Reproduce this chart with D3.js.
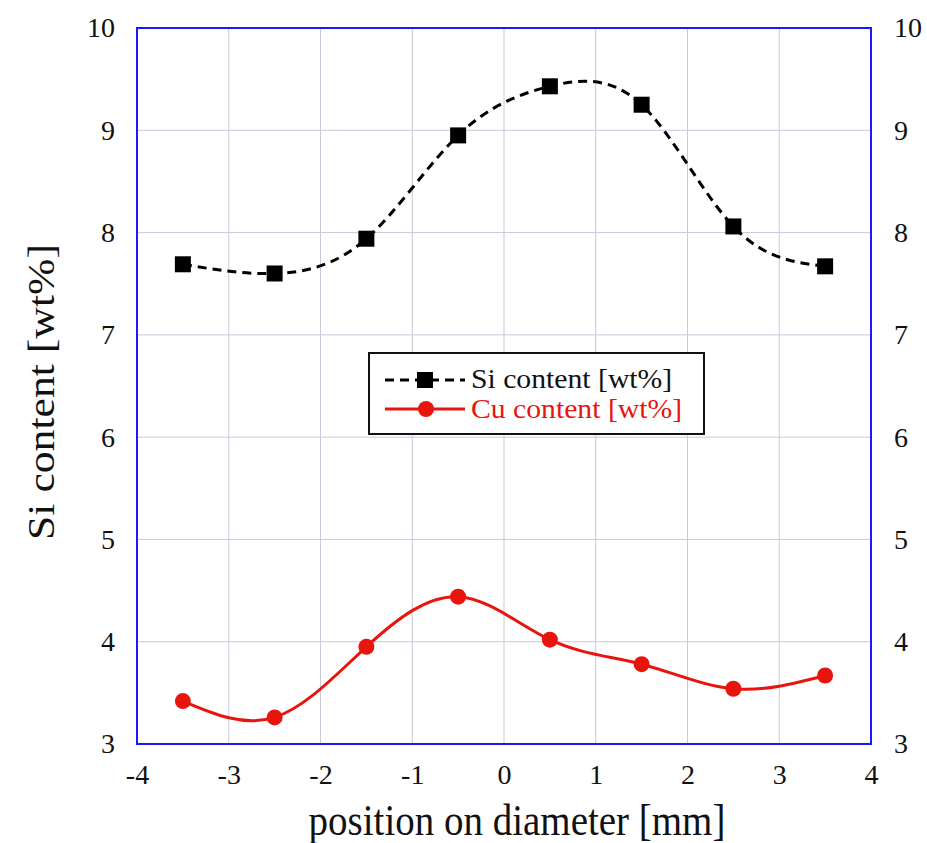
<!DOCTYPE html>
<html><head><meta charset="utf-8">
<script src="https://cdn.jsdelivr.net/npm/d3@7"></script>
<style>body{margin:0;background:#fff}</style>
</head><body>
<svg id="c" width="927" height="843"></svg>
<script>
const positions = [-3.5, -2.5, -1.5, -0.5, 0.5, 1.5, 2.5, 3.5];
const siValues = [7.69, 7.60, 7.94, 8.95, 9.43, 9.25, 8.06, 7.67];
const cuValues = [3.42, 3.26, 3.95, 4.44, 4.02, 3.78, 3.54, 3.67];
const xTicks = [-4, -3, -2, -1, 0, 1, 2, 3, 4];
const yTicks = [3, 4, 5, 6, 7, 8, 9, 10];
const seriesNames = ["Si content [wt%]", "Cu content [wt%]"];
const xTitle = "position on diameter [mm]";
const yTitle = "Si content [wt%]";

const svg = d3.select("#c");
const L = 137, R = 871, T = 28, B = 744;
const x = d3.scaleLinear().domain([-4, 4]).range([L, R]);
const y = d3.scaleLinear().domain([3, 10]).range([B, T]);
const font = "'Liberation Serif', 'Times New Roman', serif";
const fmt = d => String(d);

// grid
svg.append("g").selectAll("line").data(xTicks.slice(1, -1)).join("line")
  .attr("x1", d => x(d)).attr("x2", d => x(d)).attr("y1", T).attr("y2", B)
  .attr("stroke", "#c9c9da").attr("stroke-width", 1);
svg.append("g").selectAll("line").data(yTicks.slice(1, -1)).join("line")
  .attr("y1", d => y(d)).attr("y2", d => y(d)).attr("x1", L).attr("x2", R)
  .attr("stroke", "#c9c9da").attr("stroke-width", 1);

// axes (labels only)
const ax = (gen, tx, ty) => {
  const g = svg.append("g").attr("transform", `translate(${tx},${ty})`).call(gen);
  g.select(".domain").remove();
  g.selectAll(".tick line").remove();
  g.selectAll("text").attr("font-family", font).attr("font-size", 28).attr("fill", "#111");
  return g;
};
ax(d3.axisBottom(x).tickValues(xTicks).tickFormat(fmt).tickPadding(14), 0, B);
ax(d3.axisLeft(y).tickValues(yTicks).tickFormat(fmt).tickPadding(16), L, 0);
ax(d3.axisRight(y).tickValues(yTicks).tickFormat(fmt).tickPadding(17), R, 0);

// frame
svg.append("rect").attr("x", L).attr("y", T).attr("width", R - L).attr("height", B - T)
  .attr("fill", "none").attr("stroke", "#1a1aff").attr("stroke-width", 2);

// lines
const line = d3.line().x(d => x(d[0])).y(d => y(d[1])).curve(d3.curveNatural);
const siData = positions.map((p, i) => [p, siValues[i]]);
const cuData = positions.map((p, i) => [p, cuValues[i]]);
svg.append("path").attr("d", line(siData)).attr("fill", "none").attr("stroke", "#000")
  .attr("stroke-width", 3).attr("stroke-dasharray", "9,6");
svg.append("path").attr("d", line(cuData)).attr("fill", "none").attr("stroke", "#e8150e")
  .attr("stroke-width", 3);
svg.append("g").selectAll("rect").data(siData).join("rect")
  .attr("x", d => x(d[0]) - 8).attr("y", d => y(d[1]) - 8).attr("width", 16).attr("height", 16)
  .attr("fill", "#000");
svg.append("g").selectAll("circle").data(cuData).join("circle")
  .attr("cx", d => x(d[0])).attr("cy", d => y(d[1])).attr("r", 8).attr("fill", "#e8150e");

// legend
const lg = svg.append("g");
lg.append("rect").attr("x", 369).attr("y", 353).attr("width", 335).attr("height", 81)
  .attr("fill", "#fff").attr("stroke", "#111").attr("stroke-width", 2);
lg.append("line").attr("x1", 385).attr("x2", 465).attr("y1", 380).attr("y2", 380)
  .attr("stroke", "#000").attr("stroke-width", 3).attr("stroke-dasharray", "9,6");
lg.append("rect").attr("x", 417).attr("y", 372).attr("width", 16).attr("height", 16).attr("fill", "#000");
lg.append("line").attr("x1", 385).attr("x2", 465).attr("y1", 409).attr("y2", 409)
  .attr("stroke", "#e8150e").attr("stroke-width", 3);
lg.append("circle").attr("cx", 426).attr("cy", 409).attr("r", 8).attr("fill", "#e8150e");
lg.append("text").attr("transform", "translate(471,388) scale(1.1,1)").text(seriesNames[0])
  .attr("font-family", font).attr("font-size", 27).attr("fill", "#111");
lg.append("text").attr("transform", "translate(471,418) scale(1.1,1)").text(seriesNames[1])
  .attr("font-family", font).attr("font-size", 27).attr("fill", "#e8150e");

// titles
svg.append("text").attr("transform", "translate(517,835) scale(1,1.12)").attr("text-anchor", "middle")
  .attr("font-family", font).attr("font-size", 39).attr("fill", "#111").text(xTitle);
svg.append("text").attr("transform", "translate(54,392) rotate(-90) scale(1.12,1)")
  .attr("text-anchor", "middle").attr("font-family", font).attr("font-size", 39)
  .attr("fill", "#111").text(yTitle);
</script>
</body></html>
